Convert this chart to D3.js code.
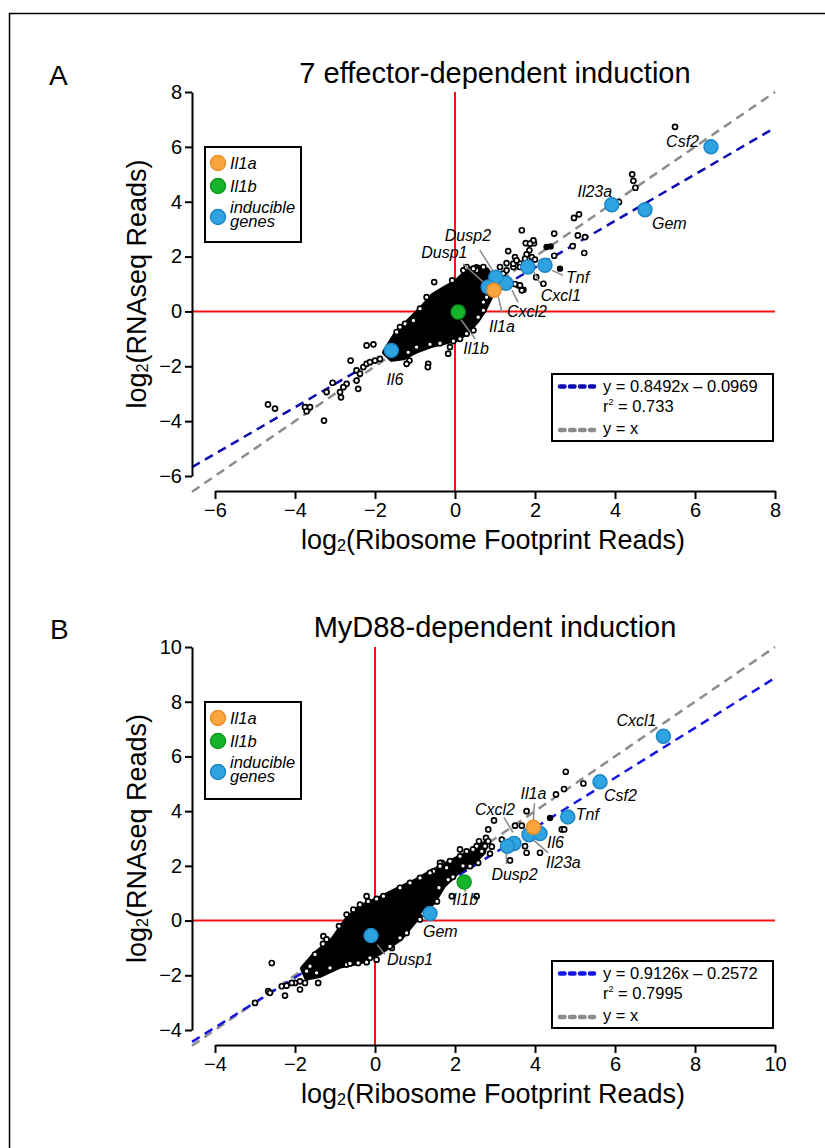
<!DOCTYPE html>
<html>
<head>
<meta charset="utf-8">
<script src="https://cdn.jsdelivr.net/npm/d3@7"></script>
<style>
  body { margin: 0; background: #fff; }
  svg { display: block; font-family: "Liberation Sans", Arial, Helvetica, sans-serif; }
</style>
</head>
<body>
<svg id="fig" width="825" height="1148"></svg>
<script>
// ---- panel A : 7 effector-dependent induction ----
const titleA = '7 effector-dependent induction';
const xTicksA = [-6, -4, -2, 0, 2, 4, 6, 8];
const yTicksA = [-6, -4, -2, 0, 2, 4, 6, 8];
const fitA = { slope: 0.8492, intercept: -0.0969, eq: 'y = 0.8492x \u2013 0.0969', r2: '0.733' };

// dense core of the cloud (outline, log2 units)
const blobA = [[-1.75,-1.49],[-1.46,-0.81],[-1.125,-0.33],[-0.83,0.10],[-0.54,0.58],[-0.25,0.83],[0.04,1.07],
  [0.29,1.43],[0.54,1.62],[0.79,1.50],[0.96,1.07],[0.875,0.52],[0.71,0.04],[0.54,-0.33],[0.29,-0.75],
  [0.04,-1.0],[-0.29,-1.12],[-0.625,-1.24],[-0.96,-1.42],[-1.29,-1.67],[-1.58,-1.73]];

// individual genes outside / on the edge of the core
const pointsA = [[5.5,6.73],[4.43,5.0],[4.46,4.76],[4.51,4.51],[4.1,3.99],[3.1,3.54],[2.975,3.41],[1.67,2.96],
  [2.48,2.84],[3.07,2.77],[3.25,2.71],[2.94,2.38],[3.23,2.13],[2.48,2.03],[1.975,2.49],[1.86,2.23],
  [1.77,2.49],[1.33,2.2],[2.21,1.01],[2.03,1.25],[1.71,0.79],[1.58,0.95],[-0.52,1.07],[-0.07,1.13],
  [1.5,1.98],[1.79,2.08],[1.92,1.98],[2.0,1.89],[1.625,1.74],[1.46,1.62],[1.29,1.76],[1.125,1.62],
  [1.96,2.59],[1.875,2.47],[1.67,0.77],[1.5,1.0],[1.625,0.95],[0.71,0.04],[-0.125,-1.30],[-0.17,-1.54],
  [-0.67,-1.91],[-0.68,-2.03],[-1.14,-1.79],[-1.21,-1.91],[-2.21,-1.24],[-2.04,-1.20],[-2.61,-1.79],
  [-2.46,-2.15],[-2.375,-2.27],[-2.29,-2.03],[-2.21,-1.91],[-2.125,-1.85],[-2.0,-1.79],[-1.875,-1.73],
  [-2.46,-2.52],[-2.42,-2.82],[-2.71,-2.64],[-2.79,-2.76],[-3.06,-2.60],[-3.21,-2.94],[-2.875,-2.94],
  [-2.85,-3.13],[-3.75,-3.49],[-3.625,-3.49],[-3.71,-3.64],[-3.275,-3.98],[-4.675,-3.39],[-4.5,-3.54],
  [-1.04,-0.33],[-0.875,0.1],[-0.71,0.52],[-1.375,-0.57],[-1.46,-0.75],[-1.25,-0.45],[0.29,-0.81],
  [0.46,-0.69],[0.125,-1.0],[-0.04,-1.08],[-0.375,-1.16],[-0.625,-1.20],[-0.96,-1.30],[-1.17,-1.49],
  [0.71,0.34],[0.79,0.52],[0.58,-0.21],[0.96,1.19],[1.125,1.31],[1.21,1.38],[1.29,1.50],[1.46,1.74],
  [1.54,1.86],[1.625,1.62],[1.75,1.92],[0.54,1.50],[0.71,1.62],[0.46,1.56],[0.21,1.5],[0.29,1.62]];
const solidA = [[2.625,1.56],[2.29,2.35],[2.39,2.37]];

const genesA = [
  { name: 'Csf2', x: 6.4, y: 6.0, kind: 'inducible' },
  { name: 'Il23a', x: 3.92, y: 3.89, kind: 'inducible' },
  { name: 'Gem', x: 4.75, y: 3.71, kind: 'inducible' },
  { name: 'Tnf', x: 2.25, y: 1.68, kind: 'inducible' },
  { name: 'Cxcl1', x: 1.82, y: 1.62, kind: 'inducible' },
  { name: 'Cxcl2', x: 1.275, y: 1.03, kind: 'inducible' },
  { name: 'Dusp2', x: 1.02, y: 1.25, kind: 'inducible' },
  { name: 'Dusp1', x: 0.83, y: 0.89, kind: 'inducible' },
  { name: 'Il6', x: -1.59, y: -1.42, kind: 'inducible' },
  { name: 'Il1a', x: 0.975, y: 0.77, kind: 'Il1a' },
  { name: 'Il1b', x: 0.08, y: -0.02, kind: 'Il1b' }
];

// ---- panel B : MyD88-dependent induction ----
const titleB = 'MyD88-dependent induction';
const xTicksB = [-4, -2, 0, 2, 4, 6, 8, 10];
const yTicksB = [-4, -2, 0, 2, 4, 6, 8, 10];
const fitB = { slope: 0.9126, intercept: -0.2572, eq: 'y = 0.9126x \u2013 0.2572', r2: '0.7995' };

const blobB = [[-1.8,-1.75],[-1.5,-1.25],[-1.04,-0.69],[-0.71,0.0],[-0.375,0.48],[0.04,0.74],[0.54,1.1],
  [1.04,1.45],[1.46,1.8],[1.96,2.18],[2.29,2.42],[2.6,2.7],[2.75,2.8],[2.7,2.5],[2.46,2.15],
  [2.04,1.76],[1.71,1.3],[1.46,0.7],[0.96,-0.05],[0.625,-0.65],[0.125,-1.15],[-0.375,-1.5],
  [-0.875,-1.64],[-1.375,-1.98],[-1.7,-2.08]];

const pointsB = [[4.77,5.44],[5.21,5.01],[4.725,4.81],[4.525,4.61],[3.79,4.0],[3.5,3.47],[3.67,3.47],
  [4.67,3.33],[4.73,3.33],[2.975,3.66],[2.83,3.33],[2.775,3.02],[3.75,2.72],[3.79,2.48],[4.125,2.48],
  [3.375,2.2],[2.67,2.53],[2.875,2.45],[2.375,1.99],[2.58,2.11],[2.75,2.72],[2.125,2.6],[1.67,2.11],
  [1.79,1.93],[1.46,1.80],[2.54,0.89],[3.17,2.96],[1.92,0.89],[1.625,2.11],[1.83,1.50],[0.625,-0.63],
  [0.42,-1.0],[0.04,-1.43],[-0.21,-1.52],[-0.42,-1.55],[-0.71,-1.61],[-2.58,-1.55],[-1.29,-0.57],
  [-1.21,-0.69],[-1.5,-1.24],[-1.625,-1.67],[-1.71,-1.85],[-1.42,-2.28],[-1.75,-2.28],[-1.875,-2.52],
  [-1.875,-2.22],[-2.0,-2.28],[-2.33,-2.4],[-2.21,-2.38],[-2.08,-2.28],[-2.67,-2.58],[-2.625,-2.64],
  [-2.25,-2.74],[-3.0,-3.01],[-0.21,0.89],[0.04,0.79],[-0.71,0.22],[-0.54,0.40],[-0.375,0.58],
  [-0.17,0.70],[0.21,0.89],[0.625,1.20],[0.875,1.38],[1.125,1.56],[1.375,1.74],[1.625,1.99],
  [1.875,2.17],[2.125,2.35],[2.29,2.53],[2.54,2.72],[1.125,0.04],[1.29,0.34],[0.79,-0.45],
  [0.375,-0.94],[-0.125,-1.36],[-0.625,-1.57],[-1.125,-1.73],[-1.46,-1.91],[2.83,2.9],[2.92,2.7],
  [2.6,2.9],[2.45,2.6],[2.2,2.0],[1.95,1.6],[1.6,1.2],[1.55,0.7],[1.2,0.25],[-0.9,-0.2],[-1.3,-0.85]];
const solidB = [[4.375,3.75]];

const genesB = [
  { name: 'Cxcl1', x: 7.21, y: 6.74, kind: 'inducible' },
  { name: 'Csf2', x: 5.625, y: 5.07, kind: 'inducible' },
  { name: 'Tnf', x: 4.82, y: 3.79, kind: 'inducible' },
  { name: 'Il23a', x: 3.85, y: 3.14, kind: 'inducible' },
  { name: 'Il6', x: 4.125, y: 3.18, kind: 'inducible' },
  { name: 'Cxcl2', x: 3.475, y: 2.82, kind: 'inducible' },
  { name: 'Dusp2', x: 3.31, y: 2.72, kind: 'inducible' },
  { name: 'Gem', x: 1.375, y: 0.26, kind: 'inducible' },
  { name: 'Dusp1', x: -0.1, y: -0.55, kind: 'inducible' },
  { name: 'Il1a', x: 3.96, y: 3.41, kind: 'Il1a' },
  { name: 'Il1b', x: 2.23, y: 1.41, kind: 'Il1b' }
];

const legendKinds = [
  { kind: 'Il1a', lines: ['Il1a'] },
  { kind: 'Il1b', lines: ['Il1b'] },
  { kind: 'inducible', lines: ['inducible', 'genes'] }
];

// ---- styling / layout (pixels) ----
const fills = { Il1a: '#f9a63f', Il1b: '#16b42c', inducible: '#2ea3e0' };
const strokes = { Il1a: '#ee8d22', Il1b: '#0c9b20', inducible: '#1d86c6' };

// label placement relative to the marker: [dx, dy, anchor], leader: [x1, y1, x2, y2]
const labelsA = {
  Csf2: [-12, 0, 'end'], Il23a: [-17, -8, 'middle'], Gem: [7, 19, 'start'],
  Tnf: [21, 18, 'start'], Cxcl1: [13, 34, 'start'], Cxcl2: [1, 34, 'start'],
  Il1a: [-5, 42, 'start'], Il1b: [5, 42, 'start'], Dusp2: [-51, -36, 'start'],
  Dusp1: [-67, -29, 'start'], Il6: [-5, 35, 'start']
};
const leadersA = {
  Tnf: [7, 5, 18, 10], Cxcl1: [6, 5, 12, 16], Cxcl2: [6, 7, 12, 19], Il1a: [4, 5, 8, 22],
  Il1b: [3, 8, 17, 27], Dusp2: [-16, -27, -2, -5], Dusp1: [-25, -23, -5, -5]
};
const labelsB = {
  Cxcl1: [-7, -10, 'end'], Csf2: [4, 19, 'start'], Tnf: [8, 3, 'start'],
  Il1a: [0, -28, 'middle'], Cxcl2: [1, -28, 'end'], Il6: [7, 14, 'start'],
  Il23a: [17, 33, 'start'], Dusp2: [-16, 34, 'start'], Il1b: [1, 23, 'middle'],
  Gem: [-7, 24, 'start'], Dusp1: [16, 29, 'start']
};
const leadersB = {
  Il1a: [1, -24, 0, -7], Cxcl2: [-10, -26, -1, -11], Il23a: [4, 5, 19, 18],
  Dusp2: [-1, 7, -1, 18], Il1b: [1, 6, 1, 10], Dusp1: [6, 9, 14, 19]
};

const svg = d3.select('#fig');

// figure frame (open at right / bottom edge of the page)
svg.append('rect')
  .attr('x', 9.5).attr('y', 13.5).attr('width', 900).attr('height', 1300)
  .attr('fill', 'none').attr('stroke', '#000').attr('stroke-width', 1.5);

const minus = d => (d < 0 ? '\u2212' + Math.abs(d) : String(d));

function logLabel(g, rest) {
  g.append('tspan').text('log');
  g.append('tspan').attr('font-size', '60%').attr('dy', 2).text('2');
  g.append('tspan').attr('dy', -2).text(rest);
}

function drawPanel(p) {
  const left = 192, x0 = 215, x1 = 775;
  const x = d3.scaleLinear().domain([p.xTicks[0], p.xTicks[p.xTicks.length - 1]]).range([x0, x1]);
  const y = d3.scaleLinear().domain([p.yTicks[0], p.yTicks[p.yTicks.length - 1]]).range([p.bottom, p.top]);
  const axisY = p.bottom + 15;
  const xMin = x.invert(left), xMax = x.domain()[1];

  svg.append('text').attr('x', p.letterX).attr('y', p.titleY + 2)
    .attr('font-size', 28).text(p.letter);
  svg.append('text').attr('x', 495).attr('y', p.titleY).attr('text-anchor', 'middle')
    .attr('font-size', 29).text(p.title);

  // zero lines
  svg.append('line').attr('x1', left).attr('x2', x(xMax)).attr('y1', y(0)).attr('y2', y(0))
    .attr('stroke', '#ff1010').attr('stroke-width', 2);
  svg.append('line').attr('x1', x(0)).attr('x2', x(0)).attr('y1', p.top).attr('y2', axisY)
    .attr('stroke', '#ff1010').attr('stroke-width', 2);

  // regression and identity lines (under the cloud)
  svg.append('line')
    .attr('x1', x(xMin)).attr('y1', y(xMin)).attr('x2', x(xMax)).attr('y2', y(xMax))
    .attr('stroke', '#8c8c8c').attr('stroke-width', 2.5).attr('stroke-dasharray', '9,6');
  const fy = v => p.fit.slope * v + p.fit.intercept;
  svg.append('line')
    .attr('x1', x(xMin)).attr('y1', y(fy(xMin))).attr('x2', x(xMax)).attr('y2', y(fy(xMax)))
    .attr('stroke', p.blue).attr('stroke-width', 2.5).attr('stroke-dasharray', '9,6');

  // dense core
  svg.append('path').datum(p.blob)
    .attr('d', d3.line().x(d => x(d[0])).y(d => y(d[1])).curve(d3.curveLinearClosed))
    .attr('fill', '#000').attr('stroke', '#000').attr('stroke-width', 6).attr('stroke-linejoin', 'round');

  svg.append('g').selectAll('circle').data(p.points).join('circle')
    .attr('cx', d => x(d[0])).attr('cy', d => y(d[1])).attr('r', 2.5)
    .attr('fill', '#fff').attr('stroke', '#000').attr('stroke-width', 1.7);
  svg.append('g').selectAll('circle').data(p.solid).join('circle')
    .attr('cx', d => x(d[0])).attr('cy', d => y(d[1])).attr('r', 3.2).attr('fill', '#000');

  // leaders
  svg.append('g').selectAll('line').data(p.genes.filter(g => p.leaders[g.name])).join('line')
    .attr('x1', g => x(g.x) + p.leaders[g.name][0]).attr('y1', g => y(g.y) + p.leaders[g.name][1])
    .attr('x2', g => x(g.x) + p.leaders[g.name][2]).attr('y2', g => y(g.y) + p.leaders[g.name][3])
    .attr('stroke', '#8a8a8a').attr('stroke-width', 1.5);

  // highlighted genes
  svg.append('g').selectAll('circle').data(p.genes).join('circle')
    .attr('cx', g => x(g.x)).attr('cy', g => y(g.y)).attr('r', 7)
    .attr('fill', g => fills[g.kind]).attr('stroke', g => strokes[g.kind]).attr('stroke-width', 1.5);

  svg.append('g').selectAll('text').data(p.genes).join('text')
    .attr('x', g => x(g.x) + p.labels[g.name][0]).attr('y', g => y(g.y) + p.labels[g.name][1])
    .attr('text-anchor', g => p.labels[g.name][2])
    .attr('font-size', 16).attr('font-style', 'italic').text(g => g.name);

  // axes
  const gx = svg.append('g').attr('transform', `translate(0,${axisY})`)
    .call(d3.axisBottom(x).tickValues(p.xTicks).tickSize(8).tickPadding(4).tickSizeOuter(0).tickFormat(minus));
  const gy = svg.append('g').attr('transform', `translate(${left},0)`)
    .call(d3.axisLeft(y).tickValues(p.yTicks).tickSize(7).tickPadding(3).tickSizeOuter(0).tickFormat(minus));
  [gx, gy].forEach(g => {
    g.attr('font-family', null).attr('font-size', null);
    g.selectAll('path, line').attr('stroke', '#000').attr('stroke-width', 2);
    g.selectAll('text').attr('font-size', 20).attr('fill', '#000');
  });

  const xl = svg.append('text').attr('x', 493).attr('y', axisY + 58)
    .attr('text-anchor', 'middle').attr('font-size', 27);
  logLabel(xl, '(Ribosome Footprint Reads)');
  const yl = svg.append('text')
    .attr('transform', `translate(146,${(p.top + p.bottom) / 2}) rotate(-90)`)
    .attr('text-anchor', 'middle').attr('font-size', 27);
  logLabel(yl, '(RNAseq Reads)');

  // marker legend
  const lg = svg.append('g').attr('transform', `translate(205,${p.legendTop})`);
  lg.append('rect').attr('width', 96).attr('height', p.legendH)
    .attr('fill', '#fff').attr('stroke', '#000').attr('stroke-width', 2);
  const rowY = [16, 39, 70];
  legendKinds.forEach((k, i) => {
    lg.append('circle').attr('cx', 13).attr('cy', rowY[i]).attr('r', 7.5)
      .attr('fill', fills[k.kind]).attr('stroke', strokes[k.kind]).attr('stroke-width', 1.5);
    k.lines.forEach((t, j) => {
      lg.append('text').attr('x', 25)
        .attr('y', k.lines.length > 1 ? rowY[i] - 4 + j * 14 : rowY[i] + 5.5)
        .attr('font-size', 16.5).attr('font-style', 'italic').text(t);
    });
  });

  // fit legend
  const fl = svg.append('g').attr('transform', `translate(552,${p.fitTop})`);
  fl.append('rect').attr('width', 221).attr('height', 67)
    .attr('fill', '#fff').attr('stroke', '#000').attr('stroke-width', 2);
  fl.append('line').attr('x1', 8).attr('x2', 42).attr('y1', 12.5).attr('y2', 12.5)
    .attr('stroke', p.blue).attr('stroke-width', 4.5).attr('stroke-linecap', 'round').attr('stroke-dasharray', '4.5,5.5');
  fl.append('line').attr('x1', 8).attr('x2', 42).attr('y1', 56).attr('y2', 56)
    .attr('stroke', '#8c8c8c').attr('stroke-width', 4.5).attr('stroke-linecap', 'round').attr('stroke-dasharray', '4.5,5.5');
  fl.append('text').attr('x', 51).attr('y', 18).attr('font-size', 16.5).text(p.fit.eq);
  const r2 = fl.append('text').attr('x', 51).attr('y', 38).attr('font-size', 16.5);
  r2.append('tspan').text('r');
  r2.append('tspan').attr('font-size', 9).attr('dy', -7).text('2');
  r2.append('tspan').attr('dy', 7).text(' = ' + p.fit.r2);
  fl.append('text').attr('x', 51).attr('y', 60).attr('font-size', 16.5).text('y = x');
}

drawPanel({
  letter: 'A', letterX: 49, title: titleA, titleY: 83, top: 92, bottom: 476,
  xTicks: xTicksA, yTicks: yTicksA, fit: fitA, blue: '#0b0bb0',
  blob: blobA, points: pointsA, solid: solidA, genes: genesA,
  labels: labelsA, leaders: leadersA, legendTop: 147, legendH: 95, fitTop: 374
});

drawPanel({
  letter: 'B', letterX: 50, title: titleB, titleY: 637, top: 647, bottom: 1030,
  xTicks: xTicksB, yTicks: yTicksB, fit: fitB, blue: '#1515e6',
  blob: blobB, points: pointsB, solid: solidB, genes: genesB,
  labels: labelsB, leaders: leadersB, legendTop: 702, legendH: 97, fitTop: 961
});
</script>
</body>
</html>
